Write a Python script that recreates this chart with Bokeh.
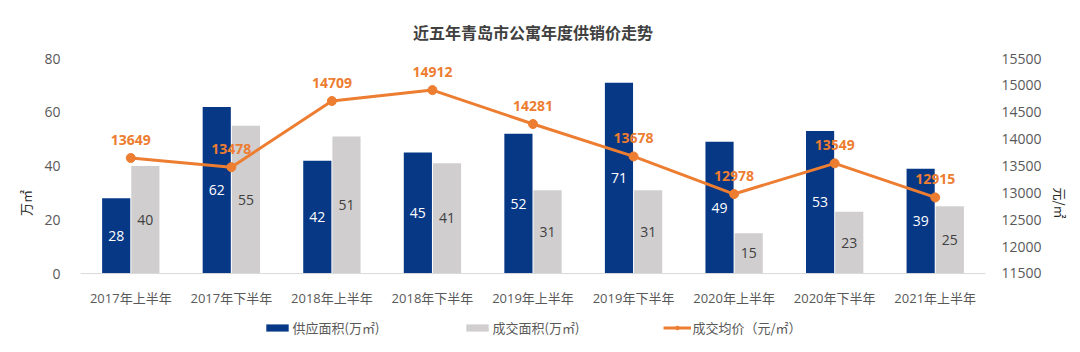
from bokeh.plotting import figure
from bokeh.models import (FactorRange, Range1d, LinearAxis, ColumnDataSource, Legend, LegendItem,
                          Span)
from bokeh.transform import dodge
from bokeh.core.properties import value
from bokeh.embed import file_html
from bokeh.resources import INLINE

categories = ["2017年上半年", "2017年下半年", "2018年上半年", "2018年下半年", "2019年上半年",
              "2019年下半年", "2020年上半年", "2020年下半年", "2021年上半年"]
supply = [28, 62, 42, 45, 52, 71, 49, 53, 39]
deal = [40, 55, 51, 41, 31, 31, 15, 23, 25]
price = [13649, 13478, 14709, 14912, 14281, 13678, 12978, 13549, 12915]

FONT = "'Open Sans', 'Noto Sans CJK SC', sans-serif"
CJK = "'Noto Sans CJK SC', sans-serif"
BLUE = "#073886"
GRAY = "#D0CECE"
ORANGE = "#ED7D31"

src = ColumnDataSource(dict(
    cat=categories, supply=supply, deal=deal, price=price,
    zero=[0] * len(categories),
    supply_mid=[v / 2 for v in supply], deal_mid=[v / 2 for v in deal],
    supply_txt=[str(v) for v in supply], deal_txt=[str(v) for v in deal],
    price_txt=[str(v) for v in price],
))

# plot area extends below the zero line to hold category labels and legend
p = figure(width=1080, height=352, x_range=FactorRange(*categories, range_padding=0),
           y_range=Range1d(-27.5, 80), output_backend="svg", toolbar_location=None,
           min_border_left=80, min_border_right=95, min_border_top=58, min_border_bottom=5)
p.extra_y_ranges = {"price": Range1d(10123, 15500)}
p.outline_line_color = None
p.grid.grid_line_color = None
p.background_fill_color = "white"
p.border_fill_color = "white"
p.xaxis.visible = False

p.add_layout(Span(location=0, dimension="width", line_color="#D9D9D9", line_width=1))

r1 = p.vbar(x=dodge("cat", -0.145, range=p.x_range), top="supply", width=0.28, source=src,
            fill_color=BLUE, line_color=None)
r2 = p.vbar(x=dodge("cat", 0.145, range=p.x_range), top="deal", width=0.28, source=src,
            fill_color=GRAY, line_color=None)

p.text(x=dodge("cat", -0.145, range=p.x_range), y="supply_mid", text="supply_txt", source=src,
       text_color="white", text_font=value(FONT), text_font_size="14px",
       text_align="center", text_baseline="middle")
p.text(x=dodge("cat", 0.145, range=p.x_range), y="deal_mid", text="deal_txt", source=src,
       text_color="#404040", text_font=value(FONT), text_font_size="14px",
       text_align="center", text_baseline="middle")

# category labels under the zero line
p.text(x="cat", y="zero", text="cat", source=src, y_offset=24,
       text_color="#595959", text_font=value(FONT), text_font_size="13px",
       text_align="center", text_baseline="middle")

r3 = p.line(x="cat", y="price", source=src, y_range_name="price", line_color=ORANGE, line_width=3)
r4 = p.scatter(x="cat", y="price", source=src, y_range_name="price", size=9,
               fill_color=ORANGE, line_color=ORANGE)
p.text(x="cat", y="price", text="price_txt", source=src, y_range_name="price",
       y_offset=-13, text_color=ORANGE, text_font=value(FONT), text_font_size="14px",
       text_font_style="bold", text_align="center", text_baseline="bottom")

# axes
p.yaxis.ticker = [0, 20, 40, 60, 80]
ax1 = p.yaxis[0]
ax2 = LinearAxis(y_range_name="price", ticker=list(range(11500, 15501, 500)))
p.add_layout(ax2, "right")
for ax in [ax1, ax2]:
    ax.axis_line_color = None
    ax.major_tick_line_color = None
    ax.minor_tick_line_color = None
    ax.major_label_text_font = FONT
    ax.major_label_text_font_size = "14px"
    ax.major_label_text_color = "#595959"
    ax.axis_label_text_font = CJK
    ax.axis_label_text_font_size = "13px"
    ax.axis_label_text_font_style = "normal"
    ax.axis_label_text_color = "#262626"
    ax.axis_label_standoff = 6
ax1.major_label_standoff = 14
ax2.major_label_standoff = 10
ax1.axis_label = "万㎡"
ax2.axis_label = "元/㎡"

# title
p.title.text = "近五年青岛市公寓年度供销价走势"
p.title.align = "center"
p.title.text_font = CJK
p.title.text_font_size = "16px"
p.title.text_font_style = "bold"
p.title.text_color = "#404040"
p.title.offset = 0
p.title.standoff = 29

legend = Legend(items=[
    LegendItem(label="供应面积(万㎡)", renderers=[r1]),
    LegendItem(label="成交面积(万㎡)", renderers=[r2]),
    LegendItem(label="成交均价（元/㎡）", renderers=[r3, r4]),
], orientation="horizontal", location="bottom_center", glyph_width=28, glyph_height=9,
    label_text_font=CJK, label_text_font_size="13px",
    label_text_color="#595959", label_standoff=2, spacing=60, label_width=110,
    border_line_color=None, background_fill_alpha=0, padding=2, margin=10)
p.add_layout(legend, "center")

open("out.html", "w").write(file_html(p, INLINE))
